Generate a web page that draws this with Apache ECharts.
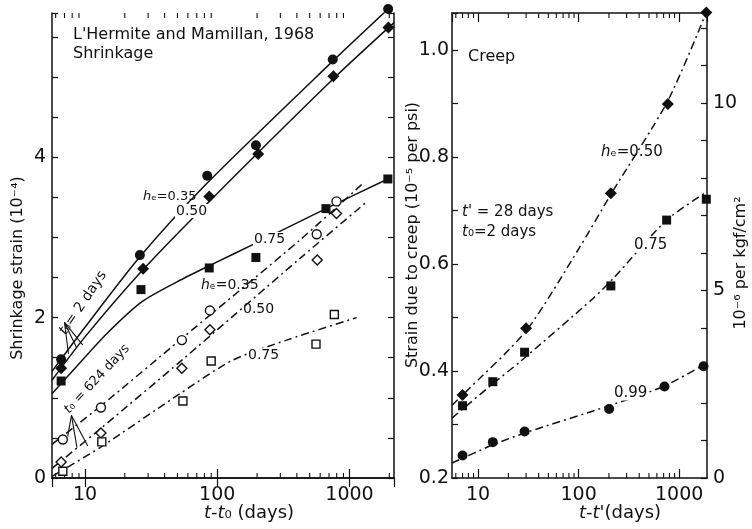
<!DOCTYPE html>
<html><head><meta charset="utf-8">
<script src="https://cdn.jsdelivr.net/npm/echarts@6/dist/echarts.min.js"></script>
<style>html,body{margin:0;background:#fff}#c{width:752px;height:529px}</style>
</head><body><div id="c"></div><script>
// ---- Shrinkage, t0 = 2 days (filled symbols): [t - t0 (days), strain x 10^-4]
const shrinkDry035 = [[6.6,1.48],[26,2.78],[84,3.77],[196,4.15],[747,5.22],[1960,5.85]];
const shrinkDry050 = [[6.6,1.37],[27.5,2.61],[87,3.51],[204,4.04],[755,5.01],[1970,5.62]];
const shrinkDry075 = [[6.6,1.21],[26.5,2.35],[87,2.62],[196,2.75],[664,3.36],[1950,3.73]];
// model curves for t0 = 2 days (solid)
const curveDry035 = [[5.63,1.33],[10,1.88],[26,2.76],[84,3.68],[747,5.2],[1960,5.85]];
const curveDry050 = [[5.63,1.22],[10,1.76],[27.5,2.6],[87,3.45],[755,4.98],[2170,5.68]];
const curveDry075 = [[5.63,1.05],[8.2,1.35],[14.6,1.8],[27,2.2],[50,2.45],[85,2.64],[196,2.93],[664,3.36],[1950,3.73]];
// ---- Shrinkage, t0 = 624 days (open symbols)
const shrinkOld035 = [[6.8,0.48],[13.2,0.88],[54,1.72],[88,2.09],[565,3.04],[797,3.45]];
const shrinkOld050 = [[6.6,0.20],[13.2,0.56],[54,1.37],[88,1.85],[570,2.72],[797,3.30]];
const shrinkOld075 = [[6.8,0.085],[13.4,0.45],[55,0.96],[90,1.46],[558,1.67],[768,2.04]];
// model curves for t0 = 624 days (dash-dot)
const curveOld035 = [[5.63,0.42],[13.2,0.9],[54,1.74],[423,2.97],[1236,3.66]];
const curveOld050 = [[5.63,0.12],[13.2,0.62],[54,1.47],[423,2.74],[1318,3.43]];
const curveOld075 = [[5.63,0.02],[13,0.38],[52,1.05],[131,1.47],[335,1.72],[1133,2.0]];
// ---- Creep, t' = 28 days, t0 = 2 days: [t - t' (days), strain 10^-5 per psi]
const creep050 = [[7,0.355],[30,0.48],[209,0.732],[771,0.899],[1860,1.07]];
const creep075 = [[7,0.335],[14,0.38],[29,0.435],[209,0.559],[750,0.682],[1860,0.721]];
const creep099 = [[7,0.242],[14,0.267],[29,0.287],[201,0.329],[714,0.371],[1745,0.409]];
const creepCurve050 = [[5.5,0.336],[7,0.355],[30,0.475],[103,0.632],[209,0.73],[771,0.905],[1860,1.07]];
const creepCurve075 = [[5.5,0.312],[14.2,0.377],[26,0.417],[140,0.536],[221,0.573],[750,0.682],[1890,0.735]];
const creepCurve099 = [[5.5,0.228],[14,0.262],[30,0.285],[200,0.335],[714,0.372],[1890,0.415]];
// axis tick labels
const shrinkYLabels = [0, 2, 4];
const creepYLabels = [0.2, 0.4, 0.6, 0.8, 1.0];
const creepY2Labels = [0, 5, 10];

const FONT = 'DejaVu Sans';
const INK = '#111';
const L = {xmin: 5.63, xmax: 2170, ymin: 0, ymax: 5.8};
const R = {xmin: 5.5, xmax: 1890, ymin: 0.2, ymax: 1.069, y2max: 12.4};

function minorTicks(lo, hi) {
  const out = [];
  for (let d = 1; d <= 1000; d *= 10)
    for (let m = 2; m <= 9; m++) { const v = m * d; if (v > lo && v < hi) out.push(v); }
  return out;
}
const isPow10 = v => Math.abs(Math.log10(v) - Math.round(Math.log10(v))) < 1e-6;
const near = (v, list) => list.some(t => Math.abs(v - t) < 1e-6);

function xAxisPair(gi, r) {
  const base = {type: 'log', logBase: 10, gridIndex: gi, min: r.xmin, max: r.xmax,
    axisLine: {lineStyle: {color: INK, width: 1.5}}, splitLine: {show: false},
    axisTick: {inside: true, length: 9, lineStyle: {color: INK, width: 1.2}}};
  return [
    Object.assign({}, base, {position: 'bottom',
      axisLabel: {color: INK, fontFamily: FONT, fontSize: 19, margin: 8,
        showMinLabel: false, showMaxLabel: false,
        formatter: v => isPow10(v) ? String(Math.round(v)) : ''}}),
    Object.assign({}, base, {position: 'top', axisLabel: {show: false}})
  ];
}
function yAxis(gi, pos, min, max, interval, labels, fmt, margin) {
  return {type: 'value', gridIndex: gi, position: pos, min, max, interval,
    axisLine: {show: true, lineStyle: {color: INK, width: 1.5}}, splitLine: {show: false},
    axisTick: {show: true, inside: true, length: 6, lineStyle: {color: INK, width: 1.2}},
    axisLabel: labels ? {color: INK, fontFamily: FONT, fontSize: 19, margin,
      formatter: v => near(v, labels) ? fmt(v) : ''} : {show: false}};
}
function minorSeries(xi, yi, r, ylo, yhi) {
  return {type: 'custom', xAxisIndex: xi, yAxisIndex: yi, silent: true, z: 5,
    data: minorTicks(r.xmin, r.xmax).map(v => [v, ylo]),
    renderItem: (p, api) => {
      const b = api.coord([api.value(0), ylo]);
      const t = api.coord([api.value(0), yhi]);
      const st = {stroke: INK, lineWidth: 1.1};
      return {type: 'group', children: [
        {type: 'line', shape: {x1: b[0], y1: b[1], x2: b[0], y2: b[1] - 5}, style: st},
        {type: 'line', shape: {x1: t[0], y1: t[1], x2: t[0], y2: t[1] + 5}, style: st}]};
    }};
}
const DASHDOT = [8, 4, 2, 4];
function curve(xi, yi, data, dashed) {
  return {type: 'line', xAxisIndex: xi, yAxisIndex: yi, data, smooth: 0.25,
    showSymbol: false, silent: true, z: 3,
    lineStyle: {color: INK, width: 1.5, type: dashed ? DASHDOT : 'solid'}};
}
function marks(xi, yi, data, symbol, size, open) {
  return {type: 'scatter', xAxisIndex: xi, yAxisIndex: yi, data, symbol, symbolSize: size,
    clip: false, z: 6, silent: true,
    itemStyle: open ? {color: '#fff', borderColor: INK, borderWidth: 1.4, opacity: 1}
                    : {color: INK, opacity: 1}};
}

function label(x, y, text, size, opt) {
  const rich = {i: {fontStyle: 'italic', fontFamily: FONT, fontSize: size, fill: INK}};
  return {type: 'text', x, y, z: 20, silent: true,
    style: Object.assign({text, fill: INK, font: size + 'px "' + FONT + '"', align: 'left',
      verticalAlign: 'middle', rich}, opt || {})};
}
function rlabel(x, y, text, deg, size) {
  const rich = {i: {fontStyle: 'italic', fontFamily: FONT, fontSize: size, fill: INK}};
  return {type: 'text', x, y, rotation: deg * Math.PI / 180, z: 20, silent: true,
    style: {text, fill: INK, font: size + 'px "' + FONT + '"', align: 'center',
      verticalAlign: 'middle', rich}};
}

const chart = echarts.init(document.getElementById('c'), null, {renderer: 'canvas'});
const lx = xAxisPair(0, L), rx = xAxisPair(1, R);
chart.setOption({
  animation: false,
  backgroundColor: '#fff',
  grid: [
    {left: 52, top: 13, width: 342, height: 465},
    {left: 452, top: 13, width: 255, height: 465}
  ],
  xAxis: [lx[0], lx[1], rx[0], rx[1]],
  yAxis: [
    yAxis(0, 'left', L.ymin, L.ymax, 0.5, shrinkYLabels, v => String(v), 6),
    yAxis(0, 'right', L.ymin, L.ymax, 0.5, null),
    yAxis(1, 'left', R.ymin, R.ymax, 0.1, creepYLabels, v => v.toFixed(1), 3),
    yAxis(1, 'right', 0, R.y2max, 1, creepY2Labels, v => String(v), 6)
  ],
  series: [
    minorSeries(0, 0, L, L.ymin, L.ymax),
    minorSeries(2, 2, R, R.ymin, R.ymax),
    curve(0, 0, curveDry035), curve(0, 0, curveDry050), curve(0, 0, curveDry075),
    curve(0, 0, curveOld035, true), curve(0, 0, curveOld050, true), curve(0, 0, curveOld075, true),
    marks(0, 0, shrinkDry035, 'circle', 10), marks(0, 0, shrinkDry050, 'diamond', 12),
    marks(0, 0, shrinkDry075, 'rect', 9),
    marks(0, 0, shrinkOld035, 'circle', 9, true), marks(0, 0, shrinkOld050, 'diamond', 10, true),
    marks(0, 0, shrinkOld075, 'rect', 8, true),
    curve(2, 2, creepCurve050, true), curve(2, 2, creepCurve075, true), curve(2, 2, creepCurve099, true),
    marks(2, 2, creep050, 'diamond', 12), marks(2, 2, creep075, 'rect', 9),
    marks(2, 2, creep099, 'circle', 10)
  ]
});

// leader lines from the t0 labels to the curves, placed in data coordinates
const leaders = [
  [[7.0, 1.94], [7.5, 1.55]], [[7.0, 1.94], [8.6, 1.63]], [[7.0, 1.94], [9.6, 1.66]],
  [[7.9, 0.78], [7.4, 0.52]], [[7.9, 0.78], [8.7, 0.38]], [[7.9, 0.78], [10.5, 0.40]]
];
const leaderEls = leaders.map(([a, b]) => {
  const p = chart.convertToPixel({gridIndex: 0}, a), q = chart.convertToPixel({gridIndex: 0}, b);
  return {type: 'line', z: 20, silent: true, shape: {x1: p[0], y1: p[1], x2: q[0], y2: q[1]},
    style: {stroke: INK, lineWidth: 1.1}};
});
const bg = {backgroundColor: '#fff', padding: [0, 1]};
chart.setOption({graphic: leaderEls.concat([
  label(73, 35, "L'Hermite and Mamillan, 1968", 16),
  label(73, 54, 'Shrinkage', 16),
  label(143, 197, '{i|h}ₑ=0.35', 13),
  label(175, 211, '0.50', 14, bg),
  label(253, 239, '0.75', 14, bg),
  label(201, 285, '{i|h}ₑ=0.35', 14),
  label(243, 309, '0.50', 14),
  label(247, 355, '0.75', 14, bg),
  rlabel(83, 303, '{i|t}₀= 2 days', 56, 14),
  rlabel(97, 379, '{i|t}₀ = 624 days', 47, 13),
  label(468, 57, 'Creep', 16),
  label(601, 152, '{i|h}ₑ=0.50', 15),
  label(462, 212, "{i|t}' = 28 days", 15),
  label(462, 232, '{i|t}₀=2 days', 15),
  label(633, 245, '0.75', 15, bg),
  label(613, 393, '0.99', 15, bg),
  rlabel(18, 268, 'Shrinkage strain (10⁻⁴)', 90, 16),
  rlabel(413, 235, 'Strain due to creep (10⁻⁵ per psi)', 90, 16),
  rlabel(741, 263, '10⁻⁶ per kgf/cm²', 90, 16),
  rlabel(249, 513, '{i|t}-{i|t}₀ (days)', 0, 18),
  rlabel(620, 513, "{i|t}-{i|t}'(days)", 0, 18)
])});
</script></body></html>
